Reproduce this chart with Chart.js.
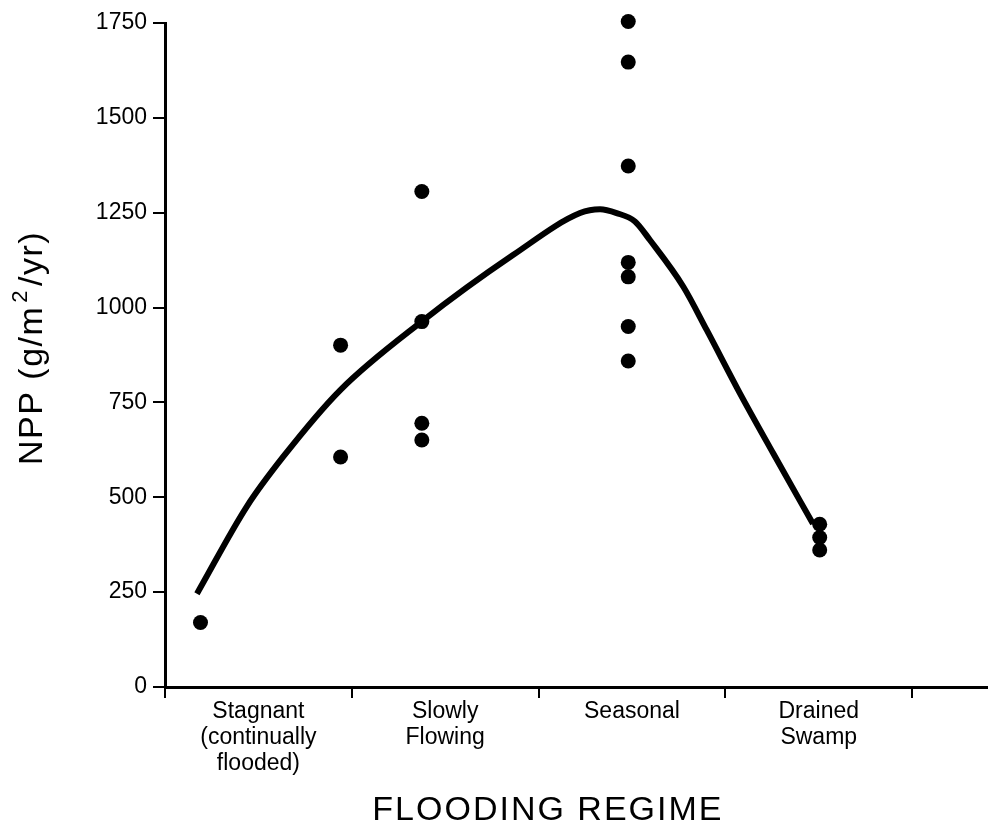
<!DOCTYPE html>
<html><head><meta charset="utf-8">
<script src="https://cdn.jsdelivr.net/npm/chart.js@4.4.1/dist/chart.umd.min.js"></script>
<style>html,body{margin:0;padding:0;background:#fff;} #wrap{width:988px;height:833px;position:relative;}</style>
</head><body><div id="wrap"><canvas id="c" width="988" height="833"></canvas></div>
<script>
// ---- data ----
const categories = [['Stagnant','(continually','flooded)'], ['Slowly','Flowing'], ['Seasonal'], ['Drained','Swamp']];
const categoryCentres = [0.5, 1.5, 2.5, 3.5];
const categoryBounds = [0, 1, 2, 3, 4];
const yTicks = [0, 250, 500, 750, 1000, 1250, 1500, 1750];
// observed sites: position along the flooding-regime axis and NPP (g/m2/yr)
const siteX   = [0.19, 0.94, 0.94, 1.375, 1.375, 1.375, 1.375, 2.48, 2.48, 2.48, 2.48, 2.48, 2.48, 2.48, 3.505, 3.505, 3.505];
const siteNPP = [170, 901, 606, 1306, 963, 695, 651, 1754, 1647, 1373, 1119, 1081, 950, 859, 429, 394, 361];
// fitted trend curve
const curveX   = [0.171, 0.437, 0.633, 0.937, 1.374, 1.865, 2.222, 2.329, 2.418, 2.516, 2.596, 2.775, 2.900, 3.078, 3.256, 3.469];
const curveNPP = [246, 475, 607, 782, 963, 1139, 1249, 1259, 1249, 1227, 1178, 1055, 941, 774, 616, 430];

const FONT = '"Liberation Sans", Arial, Helvetica, sans-serif';

const titles = {
  id: 'titles',
  afterDraw(chart) {
    const ctx = chart.ctx;
    const xs = chart.scales.x;
    ctx.save();
    ctx.fillStyle = '#000';
    ctx.font = '34px ' + FONT;
    ctx.letterSpacing = '2px';
    ctx.textAlign = 'center';
    ctx.textBaseline = 'alphabetic';
    ctx.fillText('FLOODING REGIME', xs.getPixelForValue(2.05), 820);
    ctx.restore();

    ctx.save();
    ctx.fillStyle = '#000';
    ctx.translate(42, 465);
    ctx.rotate(-Math.PI / 2);
    ctx.textAlign = 'left';
    ctx.textBaseline = 'alphabetic';
    ctx.letterSpacing = '1.5px';
    let x = 0;
    ctx.font = '34px ' + FONT;
    const a = 'NPP (g/m';
    ctx.fillText(a, x, 0); x += ctx.measureText(a).width + 3;
    ctx.font = '22px ' + FONT;
    ctx.fillText('2', x, -15); x += ctx.measureText('2').width + 3;
    ctx.font = '34px ' + FONT;
    ctx.fillText('/yr)', x, 0);
    ctx.restore();
  }
};

const sites = siteX.map((x, i) => ({x: x, y: siteNPP[i]}));
const curve = curveX.map((x, i) => ({x: x, y: curveNPP[i]}));
const xTickValues = [...categoryBounds, ...categoryCentres].sort((a, b) => a - b);

new Chart(document.getElementById('c'), {
  type: 'scatter',
  data: {
    datasets: [
      {
        label: 'Sites',
        data: sites,
        pointRadius: 7.5,
        pointHoverRadius: 7.5,
        backgroundColor: '#000',
        borderWidth: 0,
        clip: false
      },
      {
        type: 'line',
        label: 'Trend',
        data: curve,
        showLine: true,
        pointRadius: 0,
        borderColor: '#000',
        borderWidth: 6,
        cubicInterpolationMode: 'monotone',
        borderCapStyle: 'butt',
        borderJoinStyle: 'round',
        fill: false,
        clip: false
      }
    ]
  },
  options: {
    responsive: false,
    animation: false,
    events: [],
    layout: {autoPadding: false, padding: {top: 23, right: 0, left: 0, bottom: 0}},
    plugins: {legend: {display: false}, tooltip: {enabled: false}, title: {display: false}},
    scales: {
      x: {
        type: 'linear',
        min: 0,
        max: 4.406,
        afterBuildTicks: s => { s.ticks = xTickValues.map(v => ({value: v})); },
        afterFit: s => { s.height = 146; },
        ticks: {
          autoSkip: false,
          maxRotation: 0,
          minRotation: 0,
          padding: 0,
          color: '#000',
          font: {family: FONT, size: 23, lineHeight: 1.15},
          callback: v => {
            const i = categoryCentres.indexOf(v);
            return i >= 0 ? categories[i] : '';
          }
        },
        grid: {
          drawOnChartArea: false,
          drawTicks: true,
          tickLength: 11,
          lineWidth: 2,
          color: c => (c.tick && categoryBounds.includes(c.tick.value)) ? '#000' : 'rgba(0,0,0,0)'
        },
        border: {color: '#000', width: 3}
      },
      y: {
        min: 0,
        max: 1750,
        afterBuildTicks: s => { s.ticks = yTicks.map(v => ({value: v})); },
        afterFit: s => { s.width = 165; },
        ticks: {
          padding: 6,
          color: '#000',
          font: {family: FONT, size: 23},
          callback: v => String(v)
        },
        grid: {drawOnChartArea: false, drawTicks: true, tickLength: 12, lineWidth: 2, color: '#000'},
        border: {color: '#000', width: 3}
      }
    }
  },
  plugins: [titles]
});
</script>
</body></html>
